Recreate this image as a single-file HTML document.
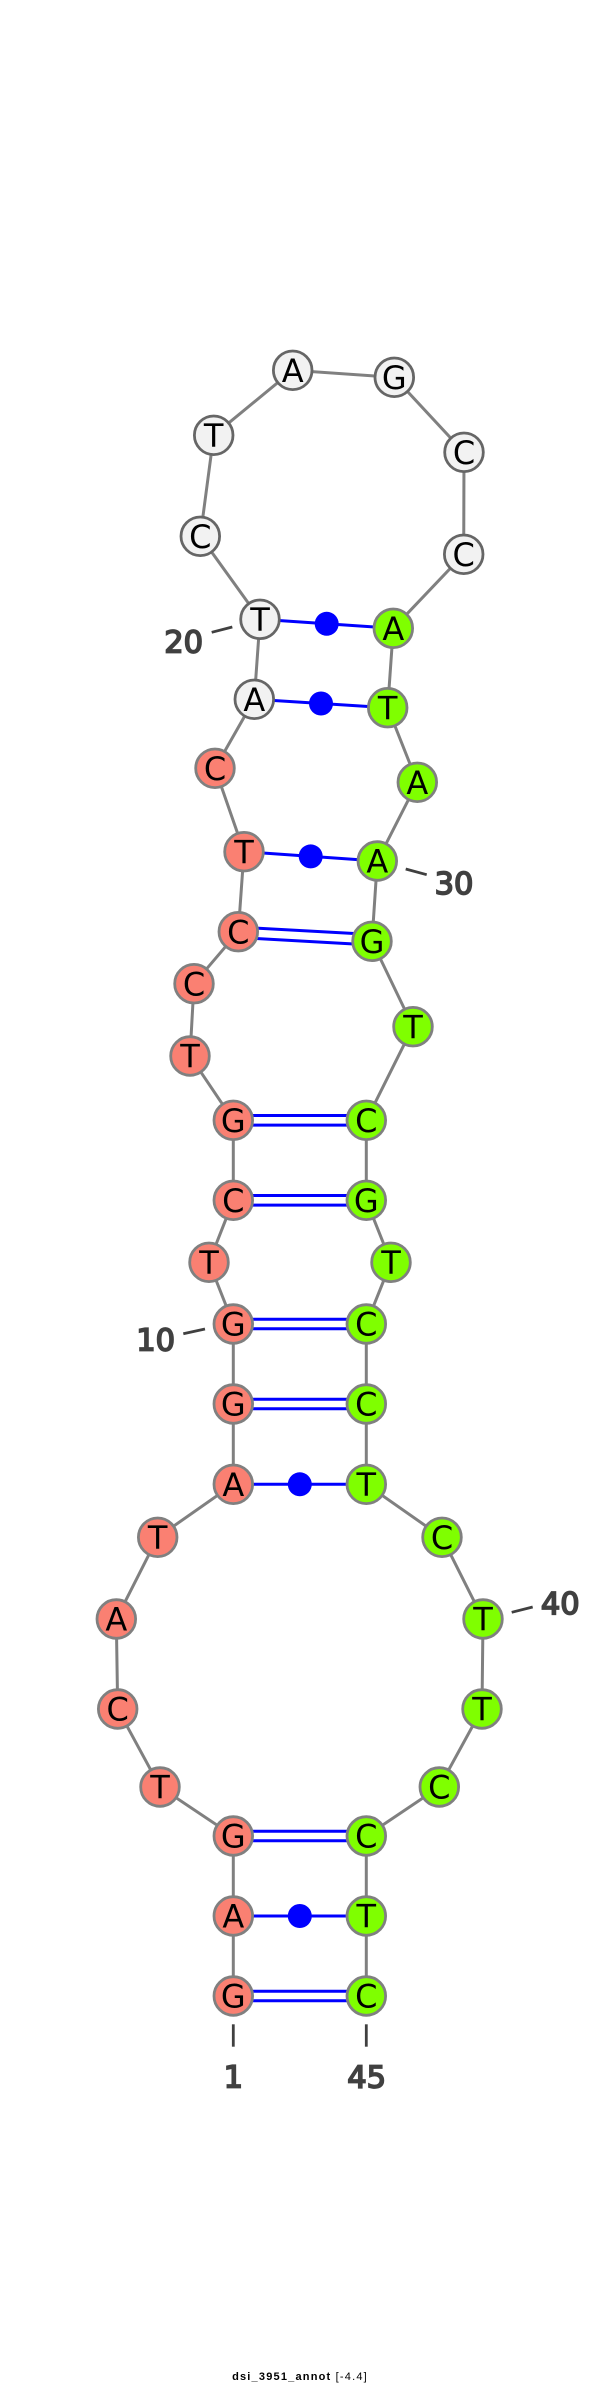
<!DOCTYPE html>
<html>
<head>
<meta charset="utf-8">
<style>
html,body{margin:0;padding:0;background:#fff;width:600px;height:2385px;overflow:hidden}
svg{display:block}
.b{font-family:"DejaVu Sans",sans-serif;font-size:32px;fill:#000;text-anchor:middle}
.l{font-family:"DejaVu Sans",sans-serif;font-size:30.5px;fill:#404040;stroke:#404040;stroke-width:1.7;text-anchor:middle}
.r circle{fill:#fa8072;stroke:#808080;stroke-width:2.8}
.g circle{fill:#7fff00;stroke:#808080;stroke-width:2.8}
.w circle{fill:#f2f2f2;stroke:#666;stroke-width:2.8}
</style>
</head>
<body>
<svg width="600" height="2385" viewBox="0 0 600 2385" xmlns="http://www.w3.org/2000/svg">
<rect width="600" height="2385" fill="#fff"/>
<polyline fill="none" stroke="#808080" stroke-width="3" points="233.3,1996 233.3,1916 233.3,1836 160,1787 117.7,1709 116.3,1619 157.7,1537.3 233.3,1484.3 233.3,1404 233.3,1324 209,1262.3 233.3,1200.3 233.3,1120.3 190,1056 194,983.7 238.3,931.7 244,851.7 215,768.3 254.3,699.3 260,619.3 200.3,536.3 213.7,435.3 292.7,370.3 394.3,377.3 464,452.3 463.7,554.3 393.3,628.3 387.7,707.7 417.3,782.3 377.3,861 372,941.3 413,1026.7 366.3,1120.3 366.3,1200.3 391,1262.3 366.3,1324 366.3,1404 366.3,1484.3 442,1537.3 483,1619 482,1709 439.3,1787 366.3,1836 366.3,1916 366.3,1996"/>
<g stroke="#0000ff" stroke-width="3" fill="none">
<line x1="233.3" y1="1991.2" x2="366.3" y2="1991.2"/>
<line x1="233.3" y1="2000.8" x2="366.3" y2="2000.8"/>
<line x1="233.3" y1="1916" x2="366.3" y2="1916"/>
<line x1="233.3" y1="1831.2" x2="366.3" y2="1831.2"/>
<line x1="233.3" y1="1840.8" x2="366.3" y2="1840.8"/>
<line x1="233.3" y1="1484.3" x2="366.3" y2="1484.3"/>
<line x1="233.3" y1="1399.2" x2="366.3" y2="1399.2"/>
<line x1="233.3" y1="1408.8" x2="366.3" y2="1408.8"/>
<line x1="233.3" y1="1319.2" x2="366.3" y2="1319.2"/>
<line x1="233.3" y1="1328.8" x2="366.3" y2="1328.8"/>
<line x1="233.3" y1="1195.5" x2="366.3" y2="1195.5"/>
<line x1="233.3" y1="1205.1" x2="366.3" y2="1205.1"/>
<line x1="233.3" y1="1115.5" x2="366.3" y2="1115.5"/>
<line x1="233.3" y1="1125.1" x2="366.3" y2="1125.1"/>
<line x1="238.6" y1="927.1" x2="372.3" y2="934.5"/>
<line x1="238" y1="937.5" x2="371.7" y2="945"/>
<line x1="244" y1="851.7" x2="377.3" y2="861"/>
<line x1="254.3" y1="699.3" x2="387.7" y2="707.7"/>
<line x1="260" y1="619.3" x2="393.3" y2="628.3"/>
</g>
<g fill="#0000ff">
<circle cx="299.8" cy="1916" r="12"/>
<circle cx="299.8" cy="1484.3" r="12"/>
<circle cx="310.7" cy="856.4" r="12"/>
<circle cx="321" cy="703.5" r="12"/>
<circle cx="326.7" cy="623.8" r="12"/>
</g>
<g class="r">
<circle cx="233.3" cy="1996" r="19.3"/><circle cx="233.3" cy="1916" r="19.3"/><circle cx="233.3" cy="1836" r="19.3"/><circle cx="160" cy="1787" r="19.3"/><circle cx="117.7" cy="1709" r="19.3"/><circle cx="116.3" cy="1619" r="19.3"/><circle cx="157.7" cy="1537.3" r="19.3"/><circle cx="233.3" cy="1484.3" r="19.3"/><circle cx="233.3" cy="1404" r="19.3"/><circle cx="233.3" cy="1324" r="19.3"/><circle cx="209" cy="1262.3" r="19.3"/><circle cx="233.3" cy="1200.3" r="19.3"/><circle cx="233.3" cy="1120.3" r="19.3"/><circle cx="190" cy="1056" r="19.3"/><circle cx="194" cy="983.7" r="19.3"/><circle cx="238.3" cy="931.7" r="19.3"/><circle cx="244" cy="851.7" r="19.3"/><circle cx="215" cy="768.3" r="19.3"/>
</g>
<g class="w">
<circle cx="254.3" cy="699.3" r="19.3"/><circle cx="260" cy="619.3" r="19.3"/><circle cx="200.3" cy="536.3" r="19.3"/><circle cx="213.7" cy="435.3" r="19.3"/><circle cx="292.7" cy="370.3" r="19.3"/><circle cx="394.3" cy="377.3" r="19.3"/><circle cx="464" cy="452.3" r="19.3"/><circle cx="463.7" cy="554.3" r="19.3"/>
</g>
<g class="g">
<circle cx="393.3" cy="628.3" r="19.3"/><circle cx="387.7" cy="707.7" r="19.3"/><circle cx="417.3" cy="782.3" r="19.3"/><circle cx="377.3" cy="861" r="19.3"/><circle cx="372" cy="941.3" r="19.3"/><circle cx="413" cy="1026.7" r="19.3"/><circle cx="366.3" cy="1120.3" r="19.3"/><circle cx="366.3" cy="1200.3" r="19.3"/><circle cx="391" cy="1262.3" r="19.3"/><circle cx="366.3" cy="1324" r="19.3"/><circle cx="366.3" cy="1404" r="19.3"/><circle cx="366.3" cy="1484.3" r="19.3"/><circle cx="442" cy="1537.3" r="19.3"/><circle cx="483" cy="1619" r="19.3"/><circle cx="482" cy="1709" r="19.3"/><circle cx="439.3" cy="1787" r="19.3"/><circle cx="366.3" cy="1836" r="19.3"/><circle cx="366.3" cy="1916" r="19.3"/><circle cx="366.3" cy="1996" r="19.3"/>
</g>
<g class="b">
<text x="233.3" y="2007.7">G</text><text x="233.3" y="1927.7">A</text><text x="233.3" y="1847.7">G</text><text x="160" y="1798.7">T</text><text x="117.7" y="1720.7">C</text><text x="116.3" y="1630.7">A</text><text x="157.7" y="1549">T</text><text x="233.3" y="1496">A</text><text x="233.3" y="1415.7">G</text><text x="233.3" y="1335.7">G</text><text x="209" y="1274">T</text><text x="233.3" y="1212">C</text><text x="233.3" y="1132">G</text><text x="190" y="1067.7">T</text><text x="194" y="995.4">C</text><text x="238.3" y="943.4">C</text><text x="244" y="863.4">T</text><text x="215" y="780">C</text><text x="254.3" y="711">A</text><text x="260" y="631">T</text><text x="200.3" y="548">C</text><text x="213.7" y="447">T</text><text x="292.7" y="382">A</text><text x="394.3" y="389">G</text><text x="464" y="464">C</text><text x="463.7" y="566">C</text><text x="393.3" y="640">A</text><text x="387.7" y="719.4">T</text><text x="417.3" y="794">A</text><text x="377.3" y="872.7">A</text><text x="372" y="953">G</text><text x="413" y="1038.4">T</text><text x="366.3" y="1132">C</text><text x="366.3" y="1212">G</text><text x="391" y="1274">T</text><text x="366.3" y="1335.7">C</text><text x="366.3" y="1415.7">C</text><text x="366.3" y="1496">T</text><text x="442" y="1549">C</text><text x="483" y="1630.7">T</text><text x="482" y="1720.7">T</text><text x="439.3" y="1798.7">C</text><text x="366.3" y="1847.7">C</text><text x="366.3" y="1927.7">T</text><text x="366.3" y="2007.7">C</text>
</g>
<g stroke="#404040" stroke-width="2.8" fill="none">
<line x1="211.7" y1="632.3" x2="232.3" y2="627"/>
<line x1="405.7" y1="869" x2="426.7" y2="874.7"/>
<line x1="183.3" y1="1333.7" x2="205" y2="1329"/>
<line x1="511.7" y1="1612.3" x2="532.7" y2="1607"/>
<line x1="233.3" y1="2024.3" x2="233.3" y2="2046.7"/>
<line x1="366.3" y1="2024.3" x2="366.3" y2="2046.7"/>
</g>
<text class="l" x="183.7" y="652.3">20</text>
<text class="l" x="454" y="894">30</text>
<text class="l" x="155.7" y="1350.7">10</text>
<text class="l" x="560.3" y="1614">40</text>
<text class="l" x="233.3" y="2087.7">1</text>
<text class="l" x="366.7" y="2087.7">45</text>
<text x="300" y="2380" text-anchor="middle" font-family="'Liberation Sans',sans-serif" font-size="11" letter-spacing="1.2" fill="#000"><tspan font-weight="bold">dsi_3951_annot</tspan> [-4.4]</text>
</svg>
</body>
</html>
